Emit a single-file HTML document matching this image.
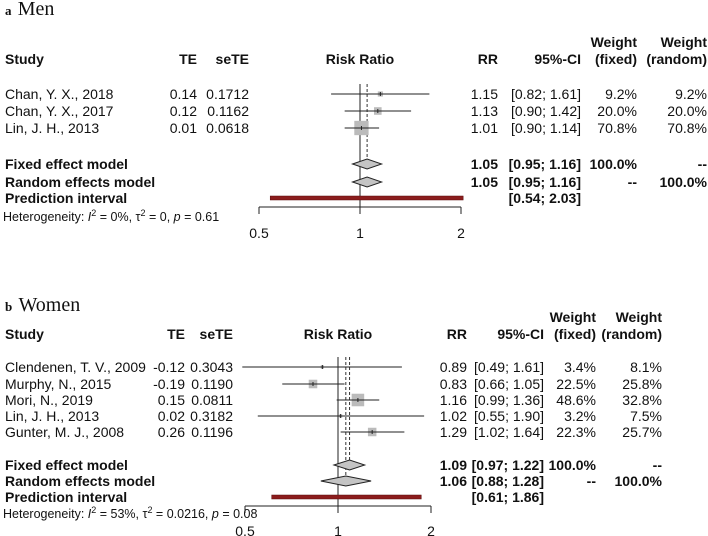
<!DOCTYPE html>
<html><head><meta charset="utf-8"><style>
html,body{margin:0;padding:0;background:#fff;overflow:hidden;}
svg{display:block;font-family:"Liberation Sans",Arial,sans-serif;}
.t{font-size:14px;fill:#111;}
.b{font-size:14px;font-weight:bold;fill:#111;}
</style></head><body>
<svg id="chart" width="708" height="536" viewBox="0 0 708 536" xmlns="http://www.w3.org/2000/svg"></svg>
<script>
// Panel a: Men
const menStudies = ["Chan, Y. X., 2018","Chan, Y. X., 2017","Lin, J. H., 2013"];
const menTE = ["0.14","0.12","0.01"];
const menSeTE = ["0.1712","0.1162","0.0618"];
const menRR = [1.15,1.13,1.01];
const menLo = [0.82,0.90,0.90];
const menHi = [1.61,1.42,1.14];
const menWFixed = [9.2,20.0,70.8];
const menWRandom = [9.2,20.0,70.8];
const menFixed = [1.05,0.95,1.16];
const menRandom = [1.05,0.95,1.16];
const menPred = [0.54,2.03];
const menTicks = [0.5,1,2];
// Panel b: Women
const womenStudies = ["Clendenen, T. V., 2009","Murphy, N., 2015","Mori, N., 2019","Lin, J. H., 2013","Gunter, M. J., 2008"];
const womenTE = ["-0.12","-0.19","0.15","0.02","0.26"];
const womenSeTE = ["0.3043","0.1190","0.0811","0.3182","0.1196"];
const womenRR = [0.89,0.83,1.16,1.02,1.29];
const womenLo = [0.49,0.66,0.99,0.55,1.02];
const womenHi = [1.61,1.05,1.36,1.90,1.64];
const womenWFixed = [3.4,22.5,48.6,3.2,22.3];
const womenWRandom = [8.1,25.8,32.8,7.5,25.7];
const womenFixed = [1.09,0.97,1.22];
const womenRandom = [1.06,0.88,1.28];
const womenPred = [0.61,1.86];
const womenTicks = [0.5,1,2];

const NS="http://www.w3.org/2000/svg";
const svg=document.getElementById('chart');
function mk(tag,attrs,parent,text){
  const e=document.createElementNS(NS,tag);
  for(const k in attrs)e.setAttribute(k,attrs[k]);
  if(text!==undefined)e.textContent=text;
  (parent||svg).appendChild(e);return e;
}
const f2=v=>v.toFixed(2);
const pct=v=>v.toFixed(1)+"%";

function panel(P){
  const g=mk('g',{});
  
  
  const xs=v=>P.x1+Math.log2(v)*P.unit;
  const tt=mk('text',{x:5,y:P.titleY,'font-family':'Liberation Serif,serif','font-size':'20',fill:'#111'},g);
  
  
  mk('tspan',{'font-weight':'bold','font-size':'13'},tt,P.letter+" ");
  mk('tspan',{dx:'3'},tt,P.title);
  const C=P.cols;
  const hdr=[["Study",5,'start'],["TE",C.te,'end'],["seTE",C.se,'end'],["Risk Ratio",P.x1,'middle'],["RR",C.rr,'end'],["95%-CI",C.ci,'end'],["(fixed)",C.wf,'end'],["(random)",C.wr,'end']];
  hdr.forEach(h=>{const t=mk('text',{x:h[1],y:P.hY+5,'text-anchor':h[2],class:'b'},g,h[0]);
    });
  [C.wf,C.wr].forEach(c=>{const t=mk('text',{x:c,y:P.hY-17+5,'text-anchor':'end',class:'b'},g,"Weight");
    });
  const yTop=P.rowY[0]-10, yBot=P.axisY;
  const ref=mk('line',{x1:xs(1),x2:xs(1),y1:yTop,y2:yBot,stroke:'#555','stroke-width':1.3},g);
  
  const d1=mk('line',{x1:xs(P.fixed[0]),x2:xs(P.fixed[0]),y1:yTop,y2:P.fixY-5,stroke:'#333','stroke-dasharray':'3,2'},g);
  
  if(P.random[0]!==P.fixed[0]){
    const d2=mk('line',{x1:xs(P.random[0]),x2:xs(P.random[0]),y1:yTop,y2:P.ranY-5,stroke:'#333','stroke-dasharray':'3,2'},g);
    
  }
  P.studies.forEach((s,i)=>{
    const y=P.rowY[i];
    const r=mk('g',{},g);
    
    [[s,5,'start'],[P.te[i],C.te,'end'],[P.se[i],C.se,'end'],[f2(P.rr[i]),C.rr,'end'],["["+f2(P.lo[i])+"; "+f2(P.hi[i])+"]",C.ci,'end'],[pct(P.wf[i]),C.wf,'end'],[pct(P.wr[i]),C.wr,'end']]
      .forEach(c=>mk('text',{x:c[1],y:y+5,'text-anchor':c[2],class:'t'},r,c[0]));
    const cx=xs(P.rr[i]);
    const sz=Math.sqrt(P.wf[i])*P.boxK;
    const box=mk('rect',{x:cx-sz/2,y:y-sz/2,width:sz,height:sz,fill:'#bbb'},r);
    
    const ci=mk('line',{x1:xs(P.lo[i]),x2:xs(P.hi[i]),y1:y,y2:y,stroke:'#222','stroke-width':1},r);
    
    mk('line',{x1:cx,x2:cx,y1:y-2,y2:y+2,stroke:'#222'},r);
  });
  const sums=[["Fixed effect model",P.fixY,P.fixed,"100.0%","--",'fixed-effect-diamond'],["Random effects model",P.ranY,P.random,"--","100.0%",'random-effects-diamond']];
  sums.forEach(s=>{
    const y=s[1],v=s[2];
    [[s[0],5,'start'],[f2(v[0]),C.rr,'end'],["["+f2(v[1])+"; "+f2(v[2])+"]",C.ci,'end'],[s[3],C.wf,'end'],[s[4],C.wr,'end']]
      .forEach(c=>{const t=mk('text',{x:c[1],y:y+5,'text-anchor':c[2],class:'b'},g,c[0]);
        });
    const d=mk('polygon',{points:`${xs(v[1])},${y} ${xs(v[0])},${y-5} ${xs(v[2])},${y} ${xs(v[0])},${y+5}`,fill:'#c4c4c4',stroke:'#222','stroke-width':1},g);
    
  });
  const pl=mk('text',{x:5,y:P.predY+5,class:'b'},g,"Prediction interval");
  
  const pc=mk('text',{x:C.ci,y:P.predY+5,'text-anchor':'end',class:'b'},g,"["+f2(P.pred[0])+"; "+f2(P.pred[1])+"]");
  
  const pxHi=Math.min(xs(P.pred[1]),xs(P.ticks[P.ticks.length-1])+3);
  const pb=mk('rect',{x:xs(P.pred[0]),y:P.predY-2,width:pxHi-xs(P.pred[0]),height:4,fill:'#8b1c1c',stroke:'#5a0d0d','stroke-width':0.5},g);
  
  const ax=mk('g',{},g);
  
  mk('line',{x1:xs(P.ticks[0]),x2:xs(P.ticks[P.ticks.length-1]),y1:P.axisY,y2:P.axisY,stroke:'#222'},ax);
  P.ticks.forEach(t=>{
    mk('line',{x1:xs(t),x2:xs(t),y1:P.axisY,y2:P.axisY+7,stroke:'#222'},ax);
    const l=mk('text',{x:xs(t),y:P.labY+5,'text-anchor':'middle',class:'t'},ax,String(t));
    
  });
  const h=mk('text',{x:3,y:P.hetY+4,'font-size':'12.5',fill:'#111'},g);
  
  mk('tspan',{},h,"Heterogeneity: ");
  mk('tspan',{'font-style':'italic'},h,"I");
  mk('tspan',{dy:'-5','font-size':'9'},h,"2");
  mk('tspan',{dy:'5'},h," = "+P.het[0]+", τ");
  mk('tspan',{dy:'-5','font-size':'9'},h,"2");
  mk('tspan',{dy:'5'},h," = "+P.het[1]+", ");
  mk('tspan',{'font-style':'italic'},h,"p");
  mk('tspan',{},h," = "+P.het[2]);
}

panel({name:'men-panel',letter:'a',title:'Men',titleY:15,hY:59,x1:360,unit:101,
  cols:{te:197,se:249,rr:498,ci:581,wf:637,wr:707},
  rowY:[94,111,128],fixY:164,ranY:182,predY:198,axisY:207,labY:233,hetY:217,
  studies:menStudies,te:menTE,se:menSeTE,rr:menRR,lo:menLo,hi:menHi,wf:menWFixed,wr:menWRandom,
  fixed:menFixed,random:menRandom,pred:menPred,ticks:menTicks,boxK:1.7,het:["0%","0","0.61"]});
panel({name:'women-panel',letter:'b',title:'Women',titleY:311,hY:334,x1:338,unit:93,
  cols:{te:185,se:233,rr:467,ci:544,wf:596,wr:662},
  rowY:[367,384,400,416,432],fixY:465,ranY:481,predY:497,axisY:506,labY:531,hetY:514,
  studies:womenStudies,te:womenTE,se:womenSeTE,rr:womenRR,lo:womenLo,hi:womenHi,wf:womenWFixed,wr:womenWRandom,
  fixed:womenFixed,random:womenRandom,pred:womenPred,ticks:womenTicks,boxK:1.8,het:["53%","0.0216","0.08"]});
</script>
</body></html>
